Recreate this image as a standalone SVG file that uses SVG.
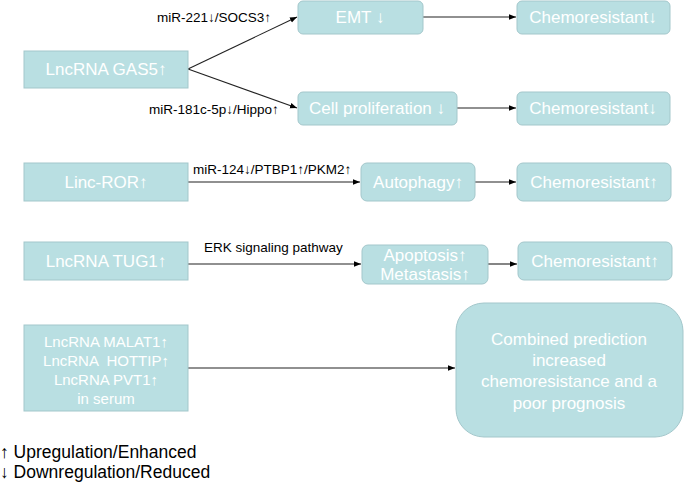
<svg xmlns="http://www.w3.org/2000/svg" width="685" height="483" viewBox="0 0 685 483">
<style>
.box{fill:#b9dfe2;stroke:#a3c7cb;stroke-width:1}
.nt{font-family:"Liberation Sans",Arial,sans-serif;font-size:17px;fill:#ffffff;text-anchor:middle}
.st{font-family:"Liberation Sans",Arial,sans-serif;font-size:15px;fill:#ffffff;text-anchor:middle;white-space:pre}
.lbl{font-family:"Liberation Sans",Arial,sans-serif;font-size:13.5px;fill:#000000}
.leg{font-family:"Liberation Sans",Arial,sans-serif;font-size:17.5px;fill:#000000}
.ln{stroke:#222;stroke-width:1.1;fill:none;marker-end:url(#ah)}
</style>
<defs>
<marker id="ah" viewBox="0 0 10 10" refX="10" refY="5" markerWidth="7" markerHeight="7" markerUnits="userSpaceOnUse" orient="auto">
<path d="M0,1 L10,5 L0,9 z" fill="#000"/>
</marker>
</defs>
<rect width="685" height="483" fill="#ffffff"/>
<g id="connectors">
<line class="ln" x1="188" y1="69" x2="297" y2="17"/>
<line class="ln" x1="188" y1="69" x2="297" y2="108"/>
<line class="ln" x1="423" y1="17" x2="516" y2="17"/>
<line class="ln" x1="457" y1="108" x2="516" y2="108"/>
<line class="ln" x1="188" y1="182" x2="360" y2="182"/>
<line class="ln" x1="475" y1="182" x2="516" y2="182"/>
<line class="ln" x1="188" y1="264" x2="361" y2="264"/>
<line class="ln" x1="488" y1="264" x2="517" y2="264"/>
<line class="ln" x1="188" y1="368" x2="455" y2="368"/>
<text class="lbl" x="157" y="22">miR-221↓/SOCS3↑</text>
<text class="lbl" x="149" y="114">miR-181c-5p↓/Hippo↑</text>
<text class="lbl" x="193" y="174">miR-124↓/PTBP1↑/PKM2↑</text>
<text class="lbl" x="204" y="252">ERK signaling pathway</text>
</g>
<g id="gas5">
<rect class="box" x="24" y="51" width="164" height="37"/>
<text class="nt" x="106" y="75">LncRNA GAS5↑</text>
</g>
<g id="emt">
<rect class="box" x="298" y="1" width="125" height="33" rx="5"/>
<text class="nt" x="360" y="23">EMT ↓</text>
</g>
<g id="chemo1">
<rect class="box" x="517" y="1" width="153" height="33" rx="5"/>
<text class="nt" x="593" y="23">Chemoresistant↓</text>
</g>
<g id="cellprolif">
<rect class="box" x="298" y="92" width="159" height="33" rx="5"/>
<text class="nt" x="377" y="114">Cell proliferation ↓</text>
</g>
<g id="chemo2">
<rect class="box" x="517" y="92" width="153" height="33" rx="5"/>
<text class="nt" x="593" y="114">Chemoresistant↓</text>
</g>
<g id="lincror">
<rect class="box" x="24" y="163" width="164" height="38"/>
<text class="nt" x="106" y="188">Linc-ROR↑</text>
</g>
<g id="autophagy">
<rect class="box" x="361" y="163" width="114" height="38" rx="6"/>
<text class="nt" x="418" y="188">Autophagy↑</text>
</g>
<g id="chemo3">
<rect class="box" x="517" y="163" width="154" height="38" rx="6"/>
<text class="nt" x="594" y="188">Chemoresistant↑</text>
</g>
<g id="tug1">
<rect class="box" x="24" y="242" width="164" height="38"/>
<text class="nt" x="106" y="267">LncRNA TUG1↑</text>
</g>
<g id="apoptosis">
<rect class="box" x="362" y="245" width="126" height="39" rx="6"/>
<text class="nt" x="425" y="261">Apoptosis↑</text>
<text class="nt" x="425" y="280">Metastasis↑</text>
</g>
<g id="chemo4">
<rect class="box" x="518" y="242" width="154" height="38" rx="6"/>
<text class="nt" x="595" y="267">Chemoresistant↑</text>
</g>
<g id="serum">
<rect class="box" x="24" y="325" width="164" height="86"/>
<text class="st" x="106" y="347">LncRNA MALAT1↑</text>
<text class="st" x="106" y="366">LncRNA  HOTTIP↑</text>
<text class="st" x="106" y="385">LncRNA PVT1↑</text>
<text class="st" x="106" y="404">in serum</text>
</g>
<g id="combined">
<rect class="box" x="456" y="303" width="227" height="134" rx="28"/>
<text class="nt" x="569" y="345">Combined prediction</text>
<text class="nt" x="569" y="366">increased</text>
<text class="nt" x="569" y="387">chemoresistance and a</text>
<text class="nt" x="569" y="409">poor prognosis</text>
</g>
<g id="legend">
<text class="leg" x="0" y="458">↑ Upregulation/Enhanced</text>
<text class="leg" x="0" y="478">↓ Downregulation/Reduced</text>
</g>
</svg>
